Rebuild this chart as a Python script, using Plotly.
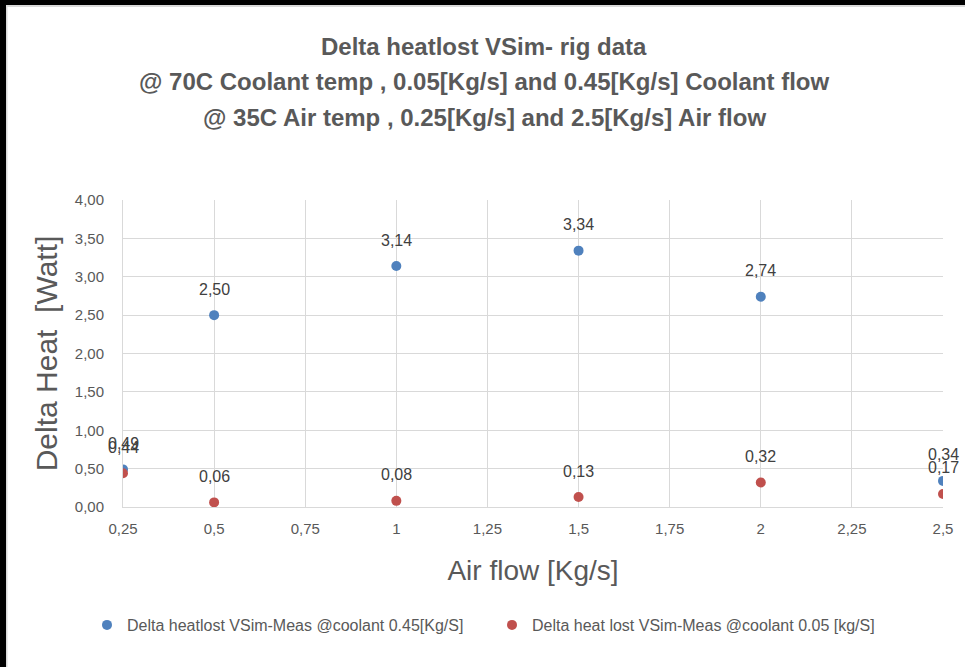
import plotly.graph_objects as go

air_flow = [0.25, 0.5, 1, 1.5, 2, 2.5]
heat_045 = [0.49, 2.50, 3.14, 3.34, 2.74, 0.34]
heat_005 = [0.44, 0.06, 0.08, 0.13, 0.32, 0.17]
name_045 = "Delta heatlost VSim-Meas @coolant 0.45[Kg/S]"
name_005 = "Delta heat lost VSim-Meas @coolant 0.05 [kg/S]"
x_ticks = [0.25, 0.5, 0.75, 1, 1.25, 1.5, 1.75, 2, 2.25, 2.5]
x_tick_text = ["0,25", "0,5", "0,75", "1", "1,25", "1,5", "1,75", "2", "2,25", "2,5"]
y_ticks = [0, 0.5, 1, 1.5, 2, 2.5, 3, 3.5, 4]
y_tick_text = ["0,00", "0,50", "1,00", "1,50", "2,00", "2,50", "3,00", "3,50", "4,00"]
title_lines = [
    "Delta heatlost VSim- rig data",
    "@ 70C Coolant temp , 0.05[Kg/s] and 0.45[Kg/s] Coolant flow",
    "@ 35C Air temp , 0.25[Kg/s] and 2.5[Kg/s] Air flow",
]

FONT = "Liberation Sans, Arial, sans-serif"
GRAY = "#595959"
BLUE = "#4F81BD"
RED = "#C0504D"

W, H = 965, 667
L, R, T, B = 123, 943, 200, 507

fig = go.Figure()
fig.add_trace(go.Scatter(x=air_flow, y=heat_045, mode="markers", name=name_045,
                         marker=dict(color=BLUE, size=10)))
fig.add_trace(go.Scatter(x=air_flow, y=heat_005, mode="markers", name=name_005,
                         marker=dict(color=RED, size=10)))

annotations = []
for xs, ys in ((air_flow, heat_045), (air_flow, heat_005)):
    for xv, yv in zip(xs, ys):
        annotations.append(dict(x=xv, y=yv, xref="x", yref="y",
                                text=f"{yv:.2f}".replace(".", ","),
                                showarrow=False, yshift=26,
                                font=dict(family=FONT, size=16, color="#404040")))

def py(Y):
    return (B - Y) / (B - T)

def px(X):
    return (X - L) / (R - L)

for i, (line, yc) in enumerate(zip(title_lines, [46, 81, 117])):
    annotations.append(dict(x=px(484), y=py(yc), xref="paper", yref="paper",
                            text=f"<b>{line}</b>", showarrow=False,
                            xanchor="center", yanchor="middle",
                            font=dict(family=FONT, size=24, color=GRAY)))

shapes = [
    dict(type="rect", xref="paper", yref="paper", x0=-1, x1=2, y0=py(5), y1=3,
         fillcolor="black", line=dict(width=0), layer="above"),
    dict(type="rect", xref="paper", yref="paper", x0=-1, x1=px(6), y0=-2, y1=3,
         fillcolor="black", line=dict(width=0), layer="above"),
    dict(type="rect", xref="paper", yref="paper", x0=px(6), x1=2, y0=py(7), y1=py(5),
         fillcolor="#D9D9D9", line=dict(width=0), layer="above"),
    dict(type="rect", xref="paper", yref="paper", x0=px(6), x1=px(7.5), y0=-2, y1=py(5),
         fillcolor="#D9D9D9", line=dict(width=0), layer="above"),
]

fig.update_layout(
    width=W, height=H,
    margin=dict(l=L, r=W - R, t=T, b=H - B),
    paper_bgcolor="white", plot_bgcolor="white",
    font=dict(family=FONT, color=GRAY),
    showlegend=True,
    legend=dict(orientation="h", x=px(87), y=py(608), xanchor="left", yanchor="top",
                font=dict(family=FONT, size=16, color=GRAY),
                entrywidth=360, entrywidthmode="pixels", itemwidth=30),
    annotations=annotations,
    shapes=shapes,
)
fig.update_xaxes(range=[0.25, 2.5], tickvals=x_ticks, ticktext=x_tick_text,
                 showgrid=True, gridcolor="#D9D9D9", gridwidth=1,
                 showline=True, linecolor="#D9D9D9", linewidth=1, mirror=False,
                 zeroline=False, ticks="", ticklabelstandoff=8,
                 tickfont=dict(family=FONT, size=15, color=GRAY),
                 title=dict(text="Air flow [Kg/s]", standoff=24,
                            font=dict(family=FONT, size=28, color=GRAY)))
fig.update_yaxes(range=[0, 4], tickvals=y_ticks, ticktext=y_tick_text,
                 showgrid=True, gridcolor="#D9D9D9", gridwidth=1,
                 showline=True, linecolor="#D9D9D9", linewidth=1,
                 zeroline=False, ticks="", ticklabelstandoff=15,
                 tickfont=dict(family=FONT, size=15, color=GRAY),
                 title=dict(text="Delta Heat  [Watt]", standoff=8,
                            font=dict(family=FONT, size=30, color=GRAY)))

fig.write_html("out.html")
